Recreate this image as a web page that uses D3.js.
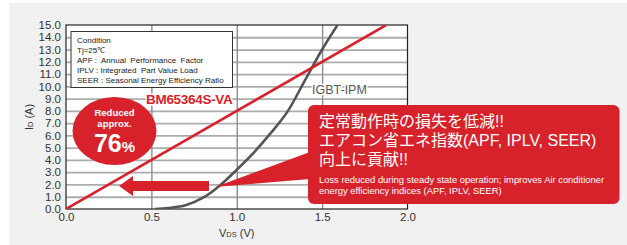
<!DOCTYPE html>
<html>
<head>
<meta charset="utf-8">
<script src="https://cdn.jsdelivr.net/npm/d3@7"></script>
<style>
  body { margin: 0; background: #fff; }
  svg { display: block; font-family: "Liberation Sans", Arial, sans-serif; }
</style>
</head>
<body>
<svg id="chart" width="627" height="245"></svg>
<script>
// données
const xTicks = [0.0, 0.5, 1.0, 1.5, 2.0];
const yTicks = [0, 1, 2, 3, 4, 5, 6, 7, 8, 9, 10, 11, 12, 13, 14, 15];
const bmVds = [0, 1.875];
const bmId = [0, 15];
const igbtVds = [0.52, 0.6, 0.7, 0.8, 0.9, 1.0, 1.1, 1.2, 1.3, 1.4, 1.5, 1.59];
const igbtId = [0, 0.08, 0.3, 0.9, 1.9, 3.2, 4.6, 6.2, 8.0, 10.5, 13.0, 15.0];
const conditionLines = [
    'Condition',
    'Tj=25℃',
    'APF :  Annual  Performance  Factor',
    'IPLV : Integrated  Part Value Load',
    'SEER : Seasonal Energy Efficiency Ratio'
];
const jpLines = ['定常動作時の損失を低減!!', 'エアコン省エネ指数(APF, IPLV, SEER)', '向上に貢献!!'];
const enLines = ['Loss reduced during steady state operation; improves Air conditioner', 'energy efficiency indices (APF, IPLV, SEER)'];

const RED = '#d8222b';
const svg = d3.select('#chart');

// fond gris
svg.append('rect').attr('x', 9).attr('y', 3).attr('width', 618).attr('height', 242).attr('fill', '#f1f1f1');

const margin = { left: 66, top: 25 };
const width = 341.5, height = 184;
const x = d3.scaleLinear().domain([0, 2]).range([0, width]);
const y = d3.scaleLinear().domain([0, 15]).range([height, 0]);

const g = svg.append('g').attr('transform', `translate(${margin.left},${margin.top})`);

g.append('rect').attr('width', width).attr('height', height).attr('fill', '#fff');

// grille
g.append('g')
    .call(d3.axisLeft(y).tickValues(yTicks.slice(1, -1)).tickSize(-width).tickFormat(''))
    .call(s => s.select('.domain').remove())
    .selectAll('line').attr('stroke', '#acacac').attr('stroke-width', 1.8);
g.append('g')
    .attr('transform', `translate(0,${height})`)
    .call(d3.axisBottom(x).tickValues(xTicks.slice(1, -1)).tickSize(-height).tickFormat(''))
    .call(s => s.select('.domain').remove())
    .selectAll('line').attr('stroke', '#8c8c8c').attr('stroke-width', 1.4);

g.append('rect').attr('width', width).attr('height', height)
    .attr('fill', 'none').attr('stroke', '#222').attr('stroke-width', 1.2);

// axes
const yAxis = g.append('g')
    .call(d3.axisLeft(y).tickValues(yTicks).tickSize(0).tickPadding(5).tickFormat(d3.format('.1f')));
yAxis.select('.domain').remove();
yAxis.selectAll('text').attr('font-size', 11.5).attr('fill', '#333')
    .attr('font-family', '"Liberation Sans", Arial, sans-serif');

const xAxis = g.append('g')
    .attr('transform', `translate(0,${height})`)
    .call(d3.axisBottom(x).tickValues(xTicks).tickSize(0).tickPadding(4).tickFormat(d3.format('.1f')));
xAxis.select('.domain').remove();
xAxis.selectAll('text').attr('font-size', 11.5).attr('fill', '#333')
    .attr('font-family', '"Liberation Sans", Arial, sans-serif');

const xl = svg.append('text').attr('x', margin.left + x(1)).attr('y', 237)
    .attr('text-anchor', 'middle').attr('font-size', 11).attr('fill', '#333');
xl.append('tspan').text('V');
xl.append('tspan').attr('font-size', 7.5).text('DS');
xl.append('tspan').text(' (V)');

const yl = svg.append('text').attr('transform', 'translate(33,117) rotate(-90)')
    .attr('text-anchor', 'middle').attr('font-size', 11).attr('fill', '#333');
yl.append('tspan').text('I');
yl.append('tspan').attr('font-size', 7.5).text('D');
yl.append('tspan').text(' (A)');

// courbes
const clip = svg.append('defs').append('clipPath').attr('id', 'plot');
clip.append('rect').attr('width', width).attr('height', height);

const line = d3.line().x(d => x(d[0])).y(d => y(d[1]));
const curves = g.append('g').attr('clip-path', 'url(#plot)');
curves.append('path')
    .datum(d3.zip(igbtVds, igbtId))
    .attr('d', line.curve(d3.curveMonotoneX))
    .attr('fill', 'none').attr('stroke', '#555').attr('stroke-width', 2.6);
curves.append('path')
    .datum(d3.zip(bmVds, bmId))
    .attr('d', d3.line().x(d => x(d[0])).y(d => y(d[1])))
    .attr('fill', 'none').attr('stroke', RED).attr('stroke-width', 2.6);

// encadré condition
svg.append('rect').attr('x', 71).attr('y', 31.5).attr('width', 161.5).attr('height', 56)
    .attr('fill', '#fff').attr('stroke', '#333').attr('stroke-width', 1);
svg.append('g').selectAll('text')
    .data(conditionLines).enter().append('text')
    .attr('x', 77).attr('y', (d, i) => 43 + i * 10)
    .attr('font-size', 8).attr('fill', '#222')
    .style('white-space', 'pre')
    .text(d => d);

// étiquettes des courbes
svg.append('text').attr('x', 146).attr('y', 104)
    .attr('font-size', 13.5).attr('font-weight', 'bold').attr('fill', RED)
    .attr('stroke', '#fff').attr('stroke-width', 3).attr('paint-order', 'stroke')
    .attr('letter-spacing', -0.3)
    .text('BM65364S-VA');
svg.append('text').attr('x', 312).attr('y', 94)
    .attr('font-size', 12.5).attr('fill', '#555')
    .attr('stroke', '#fff').attr('stroke-width', 3).attr('paint-order', 'stroke')
    .text('IGBT-IPM');

// bulle 76%
svg.append('ellipse').attr('cx', 114.5).attr('cy', 131).attr('rx', 42).attr('ry', 34).attr('fill', RED);
svg.append('text').attr('x', 114.5).attr('y', 116).attr('text-anchor', 'middle')
    .attr('font-size', 9.5).attr('font-weight', 'bold').attr('fill', '#fff').text('Reduced');
svg.append('text').attr('x', 114.5).attr('y', 127).attr('text-anchor', 'middle')
    .attr('font-size', 9.5).attr('font-weight', 'bold').attr('fill', '#fff').text('approx.');
const pct = svg.append('text').attr('x', 114.5).attr('y', 152).attr('text-anchor', 'middle')
    .attr('font-weight', 'bold').attr('fill', '#fff');
pct.append('tspan').attr('font-size', 25).text('76');
pct.append('tspan').attr('font-size', 15).text('%');

// flèche
svg.append('path')
    .attr('d', 'M209,181 L133,181 L133,176 L119,186 L133,196 L133,191 L209,191 Z')
    .attr('fill', RED);

// bulle texte
svg.append('path').attr('d', 'M215,187 L310,152 L310,179 Z').attr('fill', RED);
svg.append('rect').attr('x', 308).attr('y', 105).attr('width', 311.5).attr('height', 99)
    .attr('rx', 6).attr('fill', RED);
svg.append('g').selectAll('text')
    .data(jpLines).enter().append('text')
    .attr('x', 319).attr('y', (d, i) => 127 + i * 19)
    .attr('font-family', '"Liberation Sans", "Noto Sans CJK JP", sans-serif')
    .attr('font-size', 16).attr('fill', '#fff')
    .text(d => d);
svg.append('g').selectAll('text')
    .data(enLines).enter().append('text')
    .attr('x', 319).attr('y', (d, i) => 182.5 + i * 11)
    .attr('font-size', 9.4).attr('fill', '#fff')
    .text(d => d);
</script>
</body>
</html>
